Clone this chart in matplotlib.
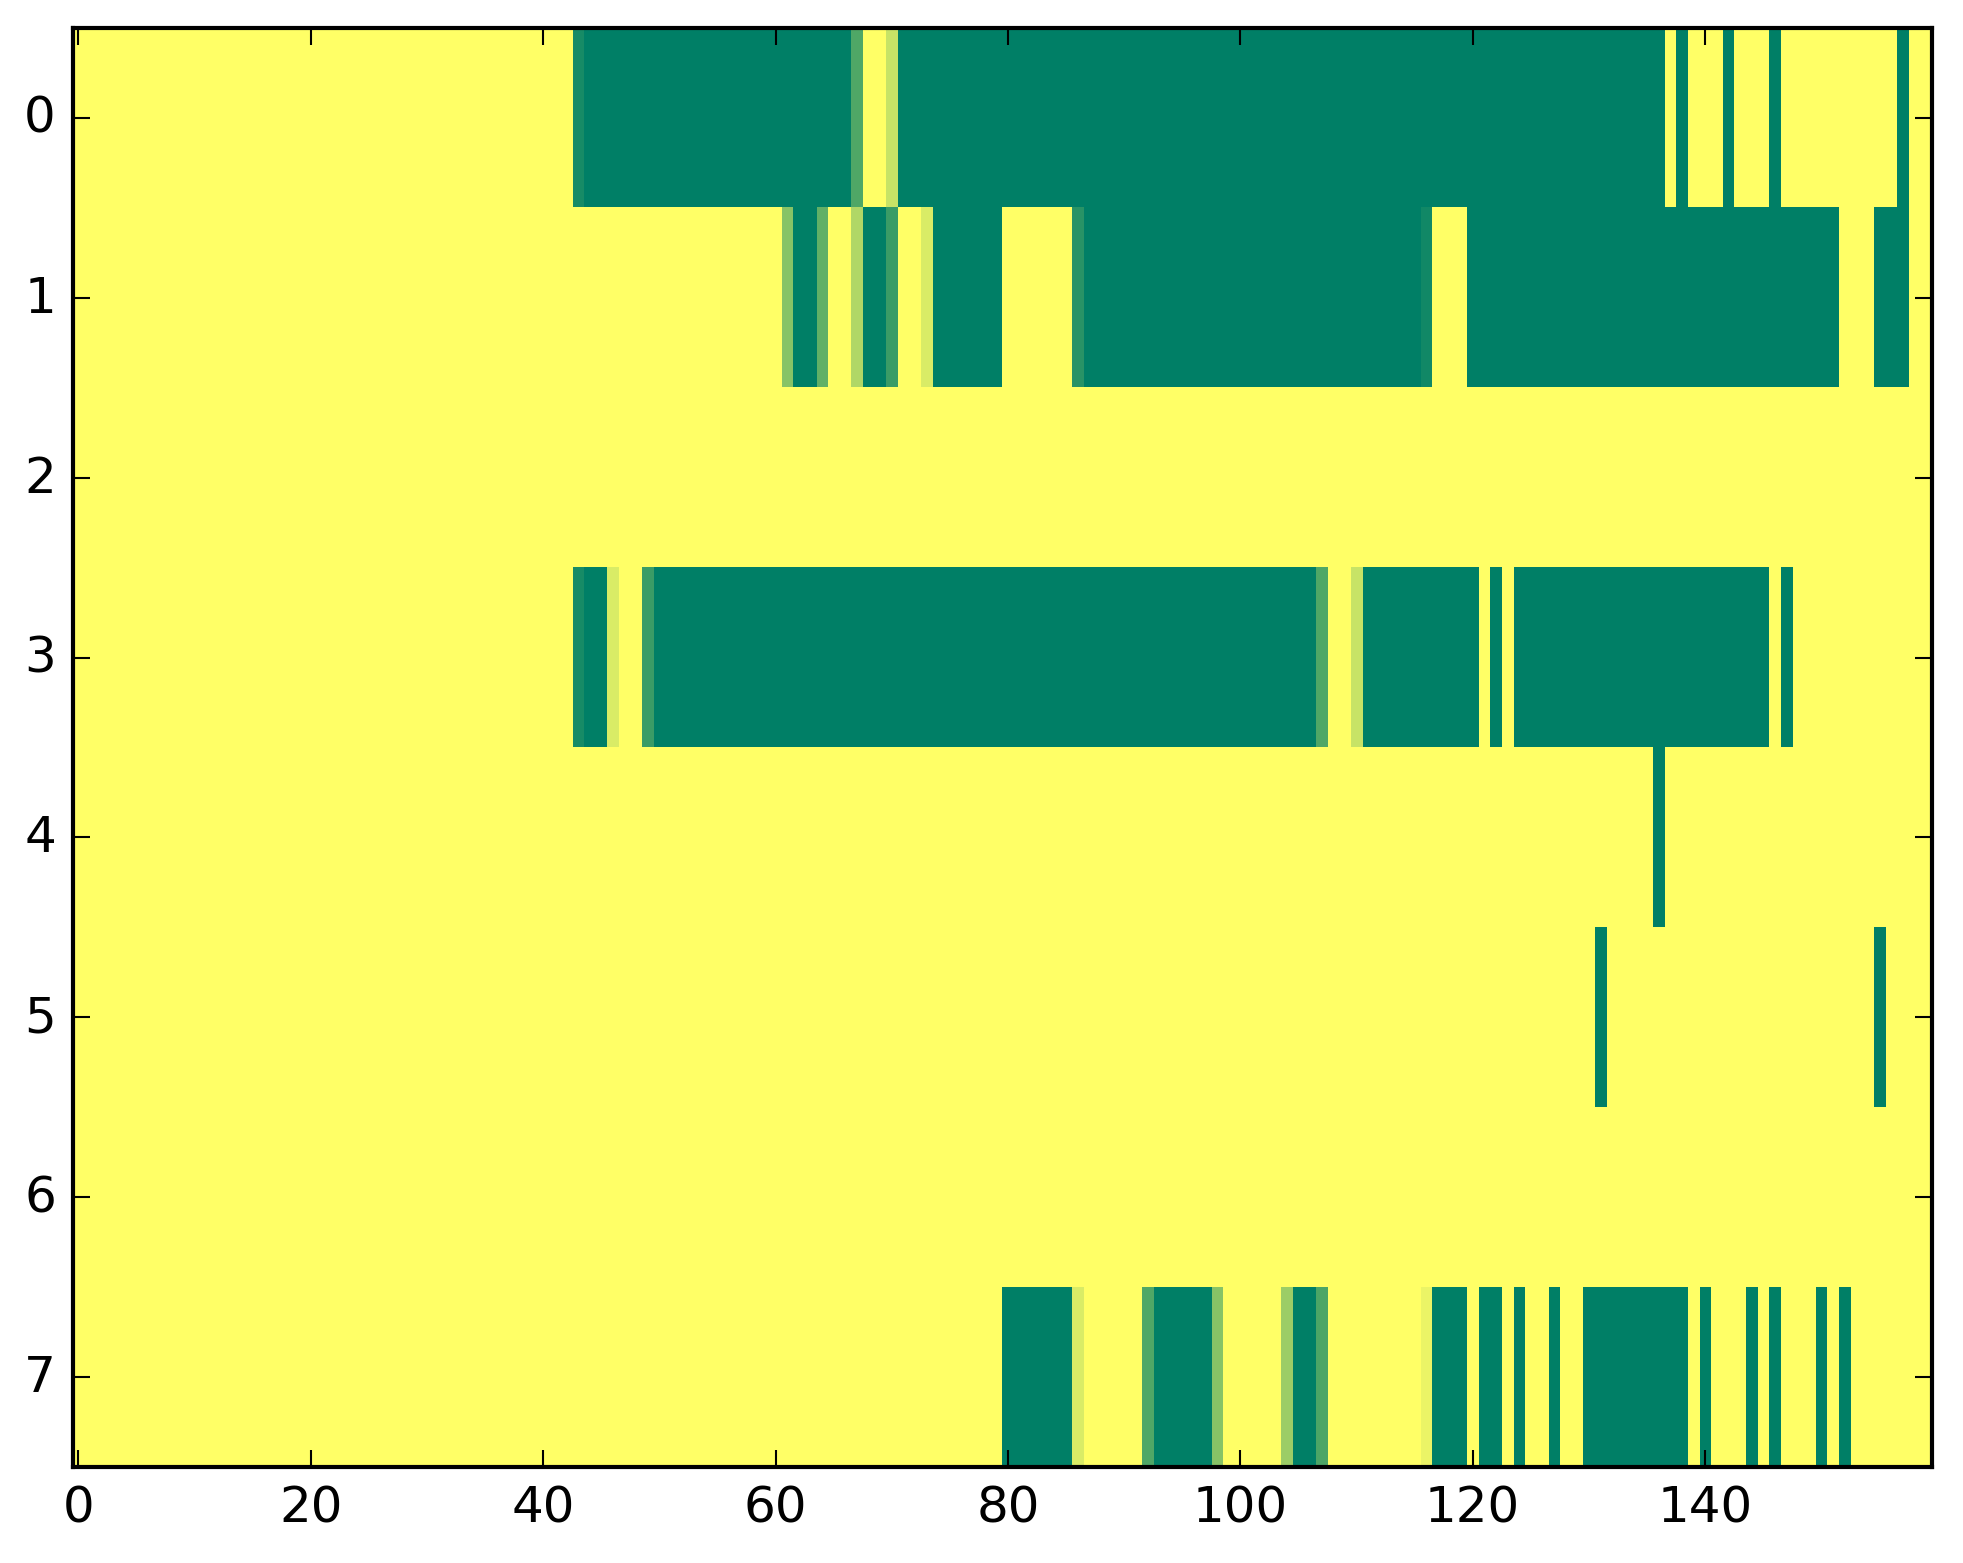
import numpy as np
import matplotlib
matplotlib.use('Agg')
import matplotlib.pyplot as plt

# grid size and background value (yellow end of 'summer')
n_rows = 8
n_cols = 160
background = 1.0

# non-background cells per row: (first col, last col, value)
row0 = [(43, 43, 0.09), (44, 66, 0.0), (67, 67, 0.31), (70, 70, 0.78),
        (71, 136, 0.0), (138, 138, 0.0), (142, 142, 0.0), (146, 146, 0.0),
        (157, 157, 0.0)]
row1 = [(61, 61, 0.53), (62, 63, 0.0), (64, 64, 0.38), (67, 67, 0.69),
        (68, 69, 0.0), (70, 70, 0.23), (73, 73, 0.85), (74, 79, 0.0),
        (86, 86, 0.16), (87, 115, 0.0), (116, 116, 0.07), (120, 151, 0.0),
        (155, 157, 0.0)]
row2 = []
row3 = [(43, 43, 0.09), (44, 45, 0.0), (46, 46, 0.85), (49, 49, 0.23),
        (50, 106, 0.0), (107, 107, 0.31), (110, 110, 0.78), (111, 120, 0.0),
        (122, 122, 0.0), (124, 145, 0.0), (147, 147, 0.0)]
row4 = [(136, 136, 0.0)]
row5 = [(131, 131, 0.0), (155, 155, 0.0)]
row6 = []
row7 = [(80, 85, 0.0), (86, 86, 0.85), (92, 92, 0.31), (93, 97, 0.0),
        (98, 98, 0.53), (104, 104, 0.61), (105, 106, 0.0), (107, 107, 0.30),
        (116, 116, 0.92), (117, 119, 0.0), (121, 122, 0.0), (124, 124, 0.0),
        (127, 127, 0.0), (130, 138, 0.0), (140, 140, 0.0), (144, 144, 0.0),
        (146, 146, 0.0), (150, 150, 0.0), (152, 152, 0.0)]

rows = [row0, row1, row2, row3, row4, row5, row6, row7]

data = np.full((n_rows, n_cols), background)
for i, runs in enumerate(rows):
    for start, end, val in runs:
        data[i, start:end + 1] = val

plt.style.use('classic')
fig = plt.figure(figsize=(1963 / 300, 1564 / 300), dpi=300)
ax = fig.add_axes([0.0370, 0.0614, 0.9470, 0.9201])
ax.imshow(data, cmap='summer', vmin=0, vmax=1, aspect='auto',
          interpolation='nearest')
ax.set_xticks(range(0, 141, 20))
ax.set_yticks(range(n_rows))
ax.set_xlim(-0.5, n_cols - 0.5)
ax.set_ylim(n_rows - 0.5, -0.5)

fig.savefig('out.png', dpi=300)
plt.close(fig)
